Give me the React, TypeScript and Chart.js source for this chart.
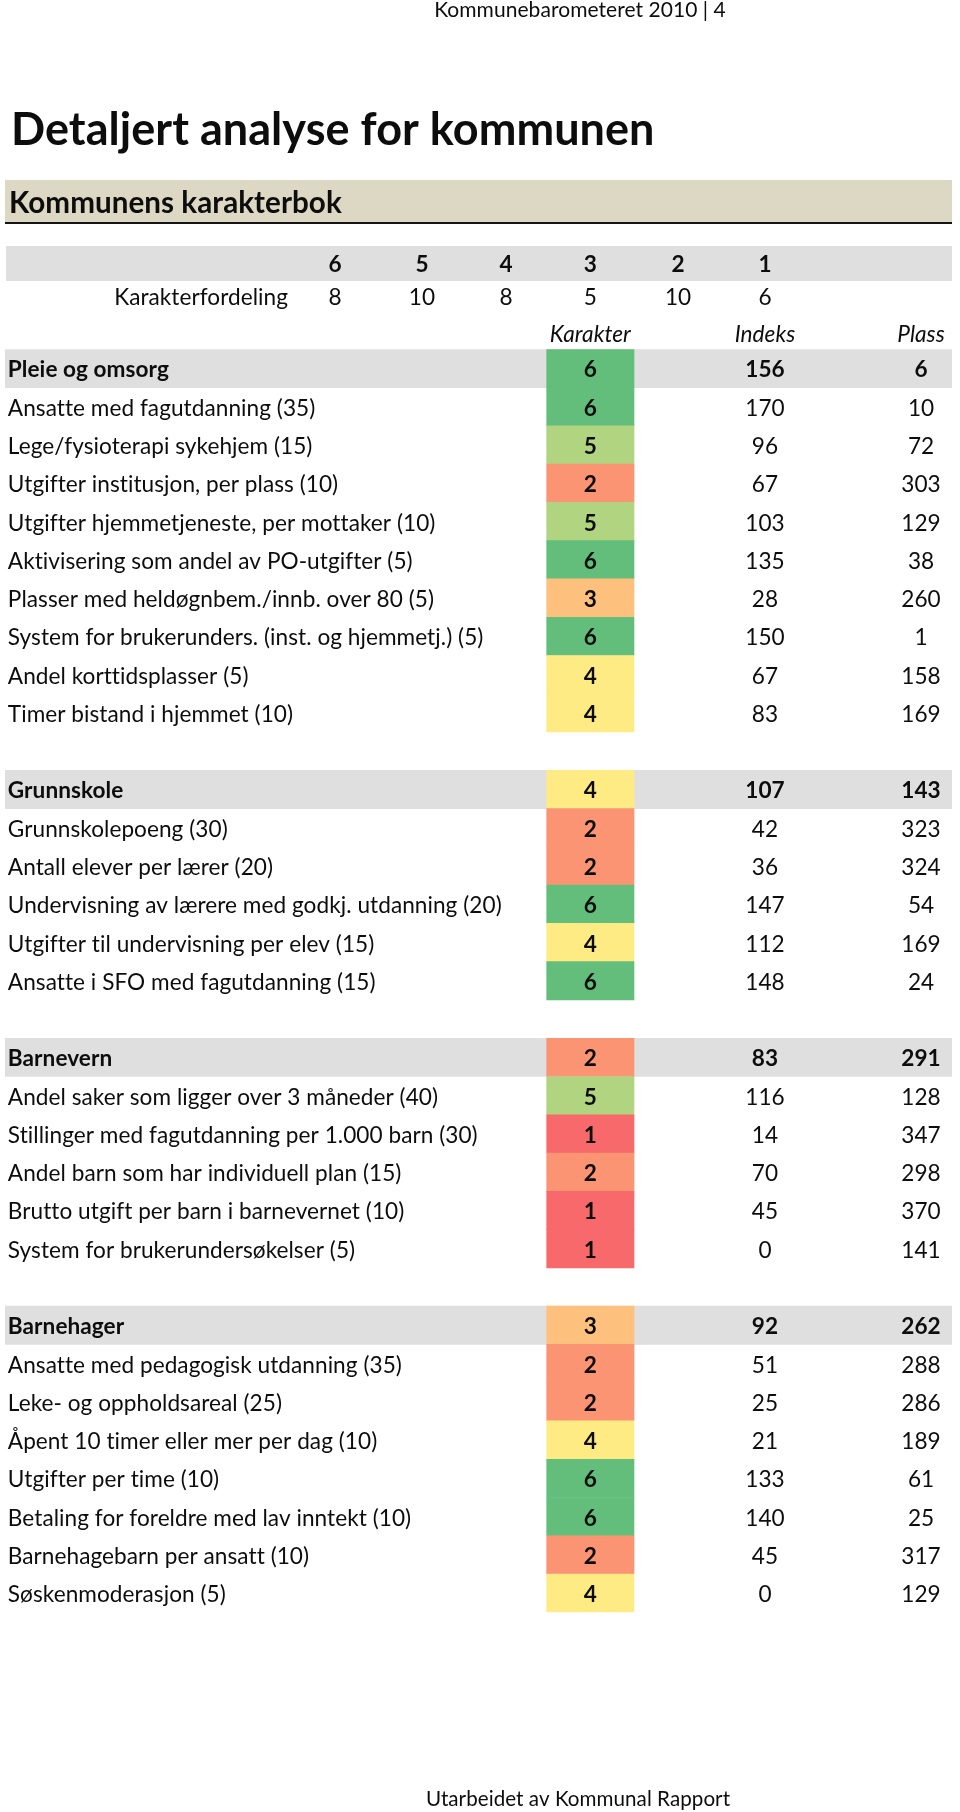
import React, { useEffect, useRef } from 'react';
import { Chart, registerables } from 'chart.js';

Chart.register(...registerables);

// ---------- data ----------
const pageHeader = 'Kommunebarometeret 2010 | 4';
const title = 'Detaljert analyse for kommunen';
const subtitle = 'Kommunens karakterbok';
const footer = 'Utarbeidet av Kommunal Rapport';

const grades = ['6', '5', '4', '3', '2', '1'];
const gradeCounts = [8, 10, 8, 5, 10, 6];
const distLabel = 'Karakterfordeling';
const columnHeadings = ['Karakter', 'Indeks', 'Plass'];

const sectionNames = ['Pleie og omsorg', 'Grunnskole', 'Barnevern', 'Barnehager'];

const rowLabels = [
  'Pleie og omsorg',
  'Ansatte med fagutdanning (35)',
  'Lege/fysioterapi sykehjem (15)',
  'Utgifter institusjon, per plass (10)',
  'Utgifter hjemmetjeneste, per mottaker (10)',
  'Aktivisering som andel av PO-utgifter (5)',
  'Plasser med heldøgnbem./innb. over 80 (5)',
  'System for brukerunders. (inst. og hjemmetj.) (5)',
  'Andel korttidsplasser (5)',
  'Timer bistand i hjemmet (10)',
  '',
  'Grunnskole',
  'Grunnskolepoeng (30)',
  'Antall elever per lærer (20)',
  'Undervisning av lærere med godkj. utdanning (20)',
  'Utgifter til undervisning per elev (15)',
  'Ansatte i SFO med fagutdanning (15)',
  '',
  'Barnevern',
  'Andel saker som ligger over 3 måneder (40)',
  'Stillinger med fagutdanning per 1.000 barn (30)',
  'Andel barn som har individuell plan (15)',
  'Brutto utgift per barn i barnevernet (10)',
  'System for brukerundersøkelser (5)',
  '',
  'Barnehager',
  'Ansatte med pedagogisk utdanning (35)',
  'Leke- og oppholdsareal (25)',
  'Åpent 10 timer eller mer per dag (10)',
  'Utgifter per time (10)',
  'Betaling for foreldre med lav inntekt (10)',
  'Barnehagebarn per ansatt (10)',
  'Søskenmoderasjon (5)',
];

const karakter = [
  6, 6, 5, 2, 5, 6, 3, 6, 4, 4, null,
  4, 2, 2, 6, 4, 6, null,
  2, 5, 1, 2, 1, 1, null,
  3, 2, 2, 4, 6, 6, 2, 4,
];

const indeks = [
  156, 170, 96, 67, 103, 135, 28, 150, 67, 83, null,
  107, 42, 36, 147, 112, 148, null,
  83, 116, 14, 70, 45, 0, null,
  92, 51, 25, 21, 133, 140, 45, 0,
];

const plass = [
  6, 10, 72, 303, 129, 38, 260, 1, 158, 169, null,
  143, 323, 324, 54, 169, 24, null,
  291, 128, 347, 298, 370, 141, null,
  262, 288, 286, 189, 61, 25, 317, 129,
];

const gradeColors: Record<number, string> = {
  1: '#F8696B',
  2: '#FA9473',
  3: '#FDC07D',
  4: '#FFEB84',
  5: '#B1D480',
  6: '#63BE7B',
};

// ---------- layout / style ----------
const W = 960;
const H = 1812;
const FONT = 'Lato, "Open Sans", sans-serif';
const BODY = 22.6;
const TABLE_TOP = 349.3;
const TABLE_BOTTOM = 1612.3;
const TABLE_LEFT = 5;
const TABLE_RIGHT = 952;
// column positions as fractions of the x scale (0..1)
const COL_LABEL = 0.003;
const COL_KAR_START = 0.572;
const COL_KAR_END = 0.6642;
const COL_INDEKS = 0.8025;
const COL_PLASS = 0.9673;
const DIST_COLS = [0.3485, 0.4403, 0.529, 0.6181, 0.7107, 0.8025];

const tablePlugin = {
  id: 'tableDecor',
  beforeDatasetsDraw(chart: any) {
    const ctx = chart.ctx;
    const xs = chart.scales.x;
    const x0 = xs.getPixelForValue(0);
    const x1 = xs.getPixelForValue(1);
    ctx.save();
    // title band
    ctx.fillStyle = '#DDD8C3';
    ctx.fillRect(x0, 180, x1 - x0, 42);
    ctx.fillStyle = '#151515';
    ctx.fillRect(x0, 222, x1 - x0, 2);
    // distribution header band
    ctx.fillStyle = '#DFDFDF';
    ctx.fillRect(x0 + 1, 246, x1 - x0 - 1, 35);
    ctx.restore();
  },
  afterDatasetsDraw(chart: any) {
    const ctx = chart.ctx;
    const xs = chart.scales.x;
    const ys = chart.scales.y;
    const X = (f: number) => xs.getPixelForValue(f);
    const put = (s: string, x: number, y: number, align: CanvasTextAlign, font: string) => {
      ctx.font = font;
      ctx.textAlign = align;
      ctx.fillText(s, x, y);
    };
    ctx.save();
    // avoid Lato's tt/ti/ft ligatures (Calibri-like look)
    try {
      (ctx as any).letterSpacing = '0.05px';
      (ctx as any).textRendering = 'optimizeSpeed';
    } catch (e) {
      /* ignore */
    }
    ctx.fillStyle = '#0d0d0d';
    ctx.textBaseline = 'alphabetic';

    // page header, title, subtitle, footer
    put(pageHeader, 580, 17, 'center', `21px ${FONT}`);
    put(title, 11, 145, 'left', `bold 45px ${FONT}`);
    put(subtitle, 9, 213, 'left', `bold 29.6px ${FONT}`);
    put(footer, 578, 1806, 'center', `20.6px ${FONT}`);

    // grade distribution
    grades.forEach((g, i) => put(g, X(DIST_COLS[i]), 272, 'center', `bold ${BODY}px ${FONT}`));
    put(distLabel, 288, 305, 'right', `${BODY}px ${FONT}`);
    gradeCounts.forEach((c, i) => put(String(c), X(DIST_COLS[i]), 305, 'center', `${BODY}px ${FONT}`));

    // column headings
    const karC = X((COL_KAR_START + COL_KAR_END) / 2);
    put(columnHeadings[0], karC, 342, 'center', `italic ${BODY}px ${FONT}`);
    put(columnHeadings[1], X(COL_INDEKS), 342, 'center', `italic ${BODY}px ${FONT}`);
    put(columnHeadings[2], X(COL_PLASS), 342, 'center', `italic ${BODY}px ${FONT}`);

    // rows
    rowLabels.forEach((label, i) => {
      if (!label) return;
      const y = ys.getPixelForValue(i) + 9;
      const bold = sectionNames.includes(label);
      const f = `${bold ? 'bold ' : ''}${BODY}px ${FONT}`;
      put(label, X(COL_LABEL), y, 'left', f);
      if (karakter[i] != null) put(String(karakter[i]), karC, y, 'center', `bold ${BODY}px ${FONT}`);
      if (indeks[i] != null) put(String(indeks[i]), X(COL_INDEKS), y, 'center', f);
      if (plass[i] != null) put(String(plass[i]), X(COL_PLASS), y, 'center', f);
    });
    ctx.restore();
  },
};

export default function App() {
  const ref = useRef<HTMLCanvasElement | null>(null);
  useEffect(() => {
    if (!ref.current) return;
    const chart = new Chart(ref.current, {
      type: 'bar',
      data: {
        labels: rowLabels,
        datasets: [
          {
            label: 'Karakter',
            data: karakter.map((k) => (k == null ? null : [COL_KAR_START, COL_KAR_END])) as any,
            backgroundColor: karakter.map((k) => (k == null ? 'transparent' : gradeColors[k])),
            borderWidth: 0,
            barPercentage: 1,
            categoryPercentage: 1,
            grouped: false,
          },
          {
            label: 'Seksjon',
            data: rowLabels.map((l) => (sectionNames.includes(l) ? [0, 1] : null)) as any,
            backgroundColor: '#DFDFDF',
            borderWidth: 0,
            barPercentage: 1,
            categoryPercentage: 1,
            grouped: false,
          },
        ],
      },
      options: {
        indexAxis: 'y',
        responsive: false,
        animation: false,
        devicePixelRatio: 1,
        layout: {
          padding: {
            top: TABLE_TOP,
            bottom: H - TABLE_BOTTOM,
            left: TABLE_LEFT,
            right: W - TABLE_RIGHT,
          },
        },
        scales: {
          x: { type: 'linear', min: 0, max: 1, display: false },
          y: { type: 'category', display: false, offset: true },
        },
        plugins: {
          legend: { display: false },
          tooltip: { enabled: false },
        },
      },
      plugins: [tablePlugin],
    });
    return () => chart.destroy();
  }, []);

  return (
    <div style={{ position: 'absolute', left: 0, top: 0, width: W, height: H, background: '#fff' }}>
      <canvas ref={ref} width={W} height={H} style={{ display: 'block', width: W, height: H }} />
    </div>
  );
}
